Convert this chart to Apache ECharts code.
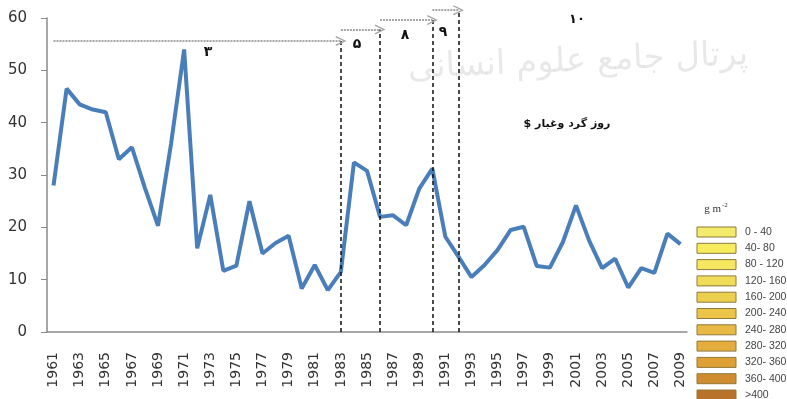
<!DOCTYPE html>
<html>
<head>
<meta charset="utf-8">
<script src="https://cdn.jsdelivr.net/npm/echarts@6/dist/echarts.min.js"></script>
<style>
  html, body { margin: 0; padding: 0; background: #fff; }
  #chart { width: 787px; height: 399px; }
</style>
</head>
<body>
<div id="chart"></div>
<script>
// Annual dust-storm days, 1961–2009
const years = ['1961','1962','1963','1964','1965','1966','1967','1968','1969','1970',
  '1971','1972','1973','1974','1975','1976','1977','1978','1979','1980',
  '1981','1982','1983','1984','1985','1986','1987','1988','1989','1990',
  '1991','1992','1993','1994','1995','1996','1997','1998','1999','2000',
  '2001','2002','2003','2004','2005','2006','2007','2008','2009'];

const dustDays = [28, 46.5, 43.5, 42.5, 42, 33, 35.3, 27.5, 20.3, 36,
  54, 16, 26.2, 11.7, 12.7, 25, 15, 17, 18.4, 8.3,
  12.8, 8, 11.5, 32.4, 30.8, 22, 22.3, 20.4, 27.4, 31.2,
  18.2, 14.4, 10.5, 12.8, 15.7, 19.5, 20.1, 12.6, 12.3, 17.2,
  24.2, 17.5, 12.2, 14, 8.5, 12.2, 11.3, 18.8, 16.8];

// Period boundaries (dashed verticals) and the height each one reaches
const breakYears = ['1983', '1986', '1990', '1992'];
const breakTops = [55.6, 57.8, 59.6, 61.5];
// Period arrows: from year, to year (level = breakTops)
const arrowFrom = ['1961', '1983', '1986', '1990'];
const arrowTo = ['1983', '1986', '1990', '1992'];

const yTicks = { min: 0, max: 60, interval: 10 };
// The annotation layer shares the plot's scale but reaches the top edge
const plotHeight = 314;
const annotMax = yTicks.max * (plotHeight + 18) / plotHeight;

// Deposition colour scale
const depoRanges = ['0 - 40', '40- 80', '80 - 120', '120- 160', '160- 200', '200- 240',
  '240- 280', '280- 320', '320- 360', '360- 400', '>400'];
const depoColors = ['#f4ea6c', '#f6ec5e', '#f5e860', '#f1dc58', '#edcf4e', '#ebc448',
  '#e8b944', '#e5ad3e', '#de9f35', '#d08d2f', '#b97229'];

const chevron = 'path://M5,0 L10,9 L8.8,9.7 L5,2.6 L1.2,9.7 L0,9 Z';

const breakLines = breakYears.map((y, i) => [
  { coord: [y, 0] },
  { coord: [y, breakTops[i]] }
]);
const arrowLines = arrowFrom.map((f, i) => [
  { coord: [f, breakTops[i]], symbol: 'none' },
  { coord: [arrowTo[i], breakTops[i]], symbol: chevron }
]);

const legendItems = [];
depoRanges.forEach((label, i) => {
  const y = 227 + i * 16.3;
  legendItems.push({
    type: 'rect', shape: { x: 697, y: y, width: 39, height: 10 },
    style: { fill: depoColors[i], stroke: '#8f7a3a', lineWidth: 1 }
  });
  legendItems.push({
    type: 'text', x: 745, y: y + 5,
    style: { text: label, fill: '#444', font: '10.5px "Liberation Sans", Arial, sans-serif',
      textVerticalAlign: 'middle' }
  });
});

const digit = (x, y, t, size) => ({
  type: 'text', x: x, y: y,
  style: { text: t, fill: '#111', font: 'bold ' + size + 'px "DejaVu Sans"',
    textAlign: 'center', textVerticalAlign: 'middle' }
});

const chart = echarts.init(document.getElementById('chart'));
chart.setOption({
  animation: false,
  backgroundColor: '#fff',
  grid: [
    { left: 47, right: 100, top: 18, bottom: 67 },
    { left: 47, right: 100, top: 0, bottom: 67 }
  ],
  xAxis: [{
    type: 'category',
    data: years,
    boundaryGap: true,
    axisLine: { lineStyle: { color: '#8a8a8a', width: 1.5 } },
    axisTick: { interval: 0, length: 5, lineStyle: { color: '#8a8a8a' } },
    axisLabel: {
      interval: 1, rotate: 90, margin: 20,
      color: '#333', fontSize: 14, fontFamily: 'DejaVu Sans'
    }
  }, {
    type: 'category', gridIndex: 1, data: years, boundaryGap: true, show: false
  }],
  yAxis: [{
    type: 'value',
    min: yTicks.min, max: yTicks.max, interval: yTicks.interval,
    axisLine: { show: true, lineStyle: { color: '#8a8a8a', width: 1.5 } },
    axisTick: { show: true, length: 6, lineStyle: { color: '#8a8a8a' } },
    splitLine: { show: false },
    axisLabel: { margin: 20, color: '#333', fontSize: 15, fontFamily: 'DejaVu Sans' }
  }, {
    type: 'value', gridIndex: 1, min: 0, max: annotMax, show: false, splitLine: { show: false }
  }],
  series: [{
    type: 'line',
    data: dustDays,
    showSymbol: false,
    symbol: 'none',
    lineStyle: { color: '#4a7ebb', width: 4 },
    z: 3
  }, {
    type: 'line',
    xAxisIndex: 1, yAxisIndex: 1,
    data: [],
    clip: false,
    markLine: {
      silent: true,
      symbol: 'none',
      animation: false,
      label: { show: false },
      lineStyle: { color: '#111', type: [4, 3], width: 1.5 },
      data: breakLines
    }
  }, {
    type: 'line',
    xAxisIndex: 1, yAxisIndex: 1,
    data: [],
    clip: false,
    markLine: {
      silent: true,
      animation: false,
      symbolSize: [10, 11],
      label: { show: false },
      lineStyle: { color: '#a5a5a5', type: [2, 1], width: 2.2 },
      itemStyle: { color: '#6a6a6a' },
      data: arrowLines
    }
  }],
  graphic: [
    {
      type: 'text', x: 578, y: 62, rotation: 0.04,
      style: {
        text: 'پرتال جامع علوم انسانی', fill: 'rgba(0,0,0,0.09)',
        font: '34px "DejaVu Sans"', textAlign: 'center', textVerticalAlign: 'middle'
      },
      z: -1
    },
    digit(208, 52, '۳', 14),
    digit(357, 44, '۵', 14),
    digit(405, 35, '۸', 14),
    digit(443, 32, '۹', 14),
    digit(577, 20, '۱۰', 13),
    { type: 'text', x: 567, y: 124, style: { text: '$ روز گرد وغبار', fill: '#111', font: 'bold 11px "DejaVu Sans"', textAlign: 'center', textVerticalAlign: 'middle' } },
    {
      type: 'text', x: 721, y: 209,
      style: { text: 'g m', fill: '#333', font: '11px "Liberation Serif", serif', textAlign: 'right', textVerticalAlign: 'middle' }
    },
    {
      type: 'text', x: 722, y: 205,
      style: { text: '-2', fill: '#333', font: '7px "Liberation Serif", serif', textAlign: 'left', textVerticalAlign: 'middle' }
    },
    { type: 'group', children: legendItems }
  ]
});
</script>
</body>
</html>
